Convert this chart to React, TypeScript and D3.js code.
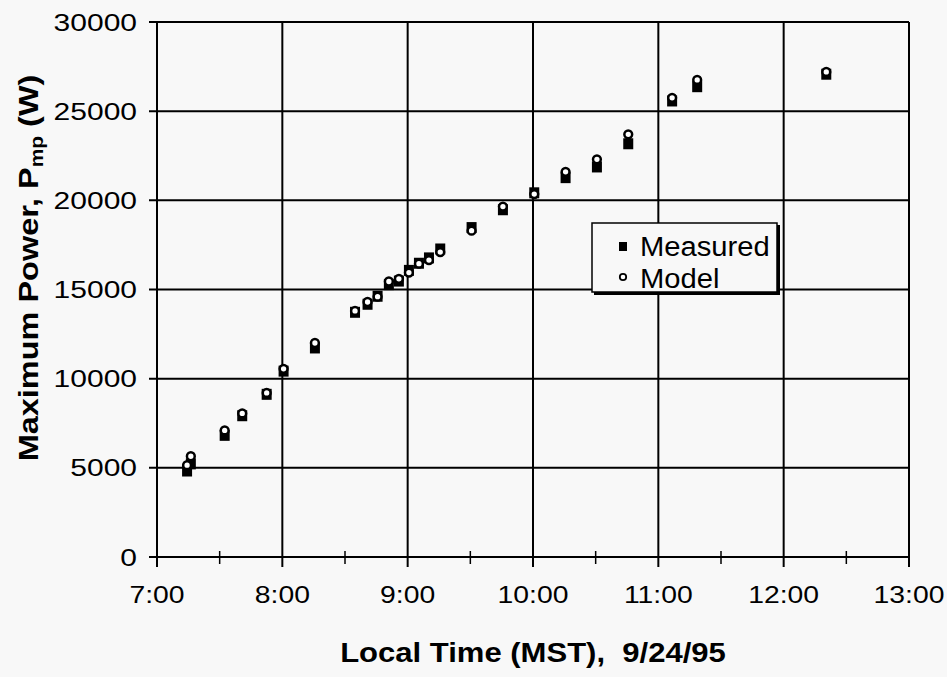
import React from "react";
import * as d3 from "d3";

// Time of day in decimal hours (MST, 9/24/95)
const times = [7.24, 7.27, 7.54, 7.68, 7.875, 8.01, 8.26, 8.58, 8.68, 8.76, 8.85, 8.93, 9.01, 9.09, 9.17, 9.26, 9.51, 9.76, 10.01, 10.26, 10.51, 10.76, 11.11, 11.31, 12.34];
const measured = [4850, 5250, 6850, 7950, 9150, 10450, 11750, 13750, 14200, 14650, 15300, 15500, 16100, 16500, 16800, 17300, 18500, 19500, 20450, 21300, 21900, 23200, 25600, 26400, 27100];
const model = [5150, 5650, 7100, 8050, 9200, 10550, 12000, 13800, 14300, 14600, 15450, 15600, 15950, 16450, 16650, 17100, 18300, 19650, 20350, 21600, 22300, 23700, 25750, 26750, 27200];

const xTicks = [7, 8, 9, 10, 11, 12, 13];
const xTickLabels = ["7:00", "8:00", "9:00", "10:00", "11:00", "12:00", "13:00"];
const xMinorTicks = [7.5, 8.5, 9.5, 10.5, 11.5, 12.5];
const yTicks = [0, 5000, 10000, 15000, 20000, 25000, 30000];
const legendLabels = ["Measured", "Model"];

const W = 947;
const H = 677;
const FONT = "'Liberation Sans', Arial, Helvetica, sans-serif";

export default function App() {
  const x = d3.scaleLinear().domain([7, 13]).range([157, 909]);
  const y = d3.scaleLinear().domain([0, 30000]).range([557, 22]);
  const [x0, x1] = x.range();
  const [y0, y1] = y.range();

  return (
    <svg
      width={W}
      height={H}
      viewBox={`0 0 ${W} ${H}`}
      style={{ position: "absolute", left: 0, top: 0, background: "#f8f8f8", display: "block" }}
    >
      <rect x={0} y={0} width={W} height={H} fill="#f8f8f8" />
      {/* horizontal grid lines */}
      {yTicks.map((t) => (
        <line key={"hg" + t} x1={x0 - 8} x2={x1} y1={y(t)} y2={y(t)} stroke="#000" strokeWidth={2} />
      ))}
      {/* vertical grid lines */}
      {xTicks.map((t) => (
        <line key={"vg" + t} x1={x(t)} x2={x(t)} y1={y1} y2={y0 + 10} stroke="#000" strokeWidth={2} />
      ))}
      {/* minor x ticks */}
      {xMinorTicks.map((t) => (
        <line key={"mt" + t} x1={x(t)} x2={x(t)} y1={y0 - 6} y2={y0 + 7} stroke="#000" strokeWidth={1.5} />
      ))}
      {/* y tick labels */}
      {yTicks.map((t) => (
        <text
          key={"yl" + t}
          transform={`translate(${x0 - 20},${y(t)}) scale(1.25,1)`}
          textAnchor="end"
          dy="0.36em"
          fontFamily={FONT}
          fontSize={24}
          fill="#000"
        >
          {t}
        </text>
      ))}
      {/* x tick labels */}
      {xTicks.map((t, i) => (
        <text
          key={"xl" + t}
          transform={`translate(${x(t)},${y0 + 46}) scale(1.18,1)`}
          textAnchor="middle"
          fontFamily={FONT}
          fontSize={24}
          fill="#000"
        >
          {xTickLabels[i]}
        </text>
      ))}
      {/* axis titles */}
      <text
        transform={`translate(533,662) scale(1.15,1)`}
        textAnchor="middle"
        fontFamily={FONT}
        fontSize={27}
        fontWeight="bold"
        fill="#000"
      >
        Local Time (MST),{"\u00a0\u00a0"}9/24/95
      </text>
      <text
        transform={`translate(38,268) rotate(-90) scale(1.16,1)`}
        textAnchor="middle"
        fontFamily={FONT}
        fontSize={28}
        fontWeight="bold"
        fill="#000"
      >
        Maximum Power, P
        <tspan fontSize={18} dy="5">mp</tspan>
        <tspan dy="-5"> (W)</tspan>
      </text>
      {/* measured markers */}
      {times.map((t, i) => (
        <rect key={"ms" + i} x={x(t) - 5} y={y(measured[i]) - 5} width={10} height={11} fill="#000" />
      ))}
      {/* model markers */}
      {times.map((t, i) => (
        <circle key={"md" + i} cx={x(t)} cy={y(model[i])} r={3.9} fill="#fff" stroke="#000" strokeWidth={2.5} />
      ))}
      {/* legend */}
      <g>
        <rect x={594} y={225} width={186} height={70} fill="#000" />
        <rect x={592} y={223} width={185} height={69} fill="#f8f8f8" stroke="#000" strokeWidth={1.5} />
        <rect x={619} y={242} width={8} height={9} fill="#000" />
        <circle cx={623} cy={277} r={3.2} fill="#fff" stroke="#000" strokeWidth={1.8} />
        <text
          transform="translate(640,256) scale(1.08,1)"
          fontFamily={FONT}
          fontSize={27}
          fill="#000"
        >
          {legendLabels[0]}
        </text>
        <text
          transform="translate(640,288) scale(1.08,1)"
          fontFamily={FONT}
          fontSize={27}
          fill="#000"
        >
          {legendLabels[1]}
        </text>
      </g>
    </svg>
  );
}
